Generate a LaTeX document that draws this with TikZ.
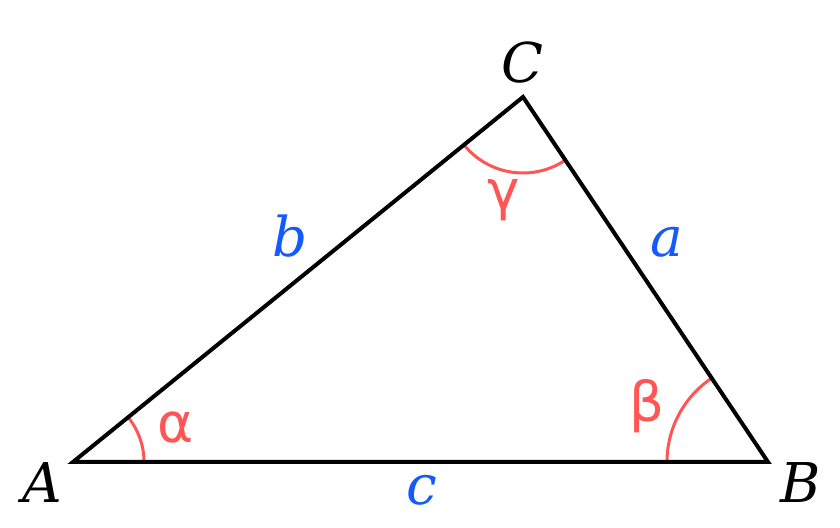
\documentclass[tikz,border=0pt]{standalone}
\usepackage{fontspec}
\setmainfont{DejaVu Serif}
\newfontfamily\greekfont{DejaVu Sans}
\usepackage{tikz}
\usetikzlibrary{angles}
\definecolor{sideblue}{RGB}{20,90,255}
\definecolor{anglered}{RGB}{255,85,85}

\begin{document}
\begin{tikzpicture}
    \tikzset{vertexlabel/.style={anchor=base,inner sep=0pt,font=\fontsize{39}{44}\selectfont\itshape}}
    \tikzset{sidelabel/.style={vertexlabel,text=sideblue}}
    \tikzset{anglelabel/.style={anchor=base,inner sep=0pt,text=anglered,font=\fontsize{39}{44}\selectfont\greekfont}}
    \tikzset{anglearc/.style={draw=anglered,line width=0.075cm}}
    \useasboundingbox[fill=white] (0,0) rectangle (21,13.2);

    \coordinate (A) at (1.825,1.65);
    \coordinate (B) at (19.2,1.65);
    \coordinate (C) at (13.075,10.775);

    % angle arcs
    \pic[anglearc,angle radius=1.775cm] {angle=B--A--C};
    \pic[anglearc,angle radius=2.525cm] {angle=C--B--A};
    \pic[anglearc,angle radius=1.9cm] {angle=A--C--B};

    \draw[line width=0.1cm,line join=miter] (A) -- (B) -- (C) -- cycle;

    \node[vertexlabel] (la) at (1.05,0.625) {A};
    \node[vertexlabel] (lb) at (20.025,0.625) {B};
    \node[vertexlabel] (lc) at (13.05,11.125) {C};

    \node[sidelabel] (sa) at (16.675,6.775) {a};
    \node[sidelabel] (sb) at (7.25,6.775) {b};
    \node[sidelabel] (sc) at (10.55,0.575) {c};

    \node[anglelabel] (alpha) at (4.4,2.125) {α};
    \node[anglelabel] (beta) at (16.175,2.65) {β};
    \node[anglelabel] (gamma) at (12.6,7.95) {γ};
\end{tikzpicture}
\end{document}
